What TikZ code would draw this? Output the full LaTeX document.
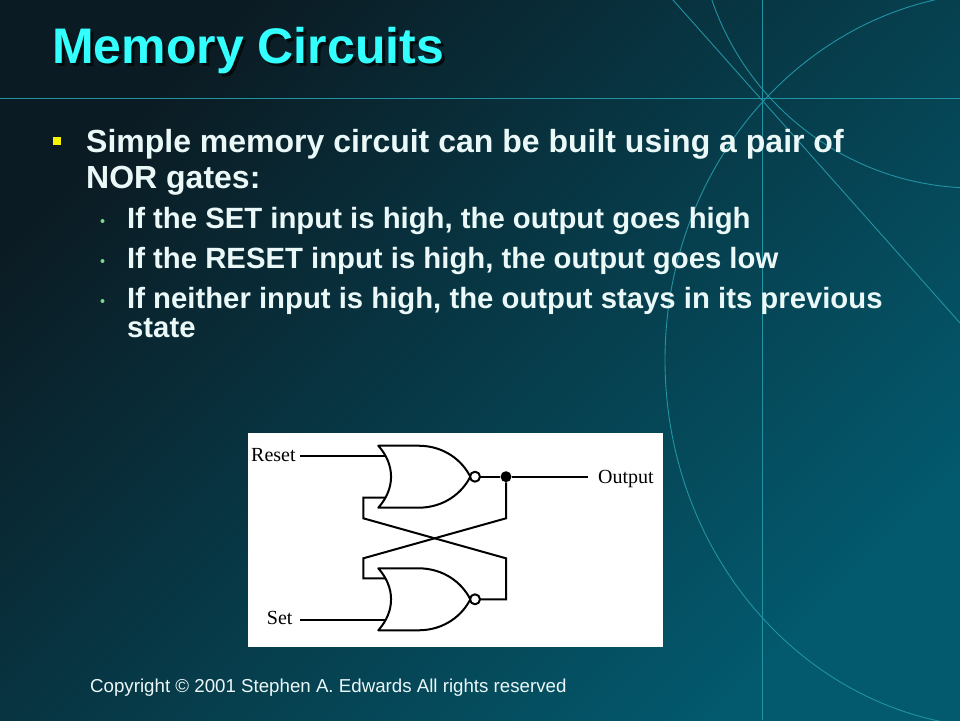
\documentclass[tikz,border=0pt]{standalone}
\usepackage{fontspec}
\setmainfont{Liberation Sans}
\newfontfamily\circfont{Liberation Serif}
\usetikzlibrary{positioning}

\definecolor{bgdark}{HTML}{0B1B23}
\definecolor{bglight}{HTML}{03596D}
\definecolor{decoline}{HTML}{2293A3}
\definecolor{titlecyan}{HTML}{33FFFF}
\definecolor{titleshade}{HTML}{050A0C}
\definecolor{bodytext}{HTML}{EAF8F8}
\definecolor{bulletyellow}{HTML}{F5F500}
\definecolor{subgreen}{HTML}{7CD88A}

\tikzset{
  wire/.style={line width=2pt},
  gateline/.style={line width=2pt, line join=round},
  deco/.style={decoline, line width=0.9pt},
  circlabel/.style={font=\circfont\fontsize{20}{22}\selectfont, inner sep=0pt, anchor=base west},
  bodyline/.style={text=bodytext, font=\bfseries\fontsize{32}{36}\selectfont, inner sep=0pt, anchor=base west},
  subline/.style={text=bodytext, font=\bfseries\fontsize{29.3}{33}\selectfont, inner sep=0pt, anchor=base west},
  pics/norgate/.style={code={
    \draw[gateline] (0,-31) -- (40,-31) .. controls (66,-31) and (84,-16) .. (92,0)
      .. controls (84,16) and (66,31) .. (40,31) -- (0,31)
      .. controls (17,12) and (17,-12) .. (0,-31) -- cycle;
    \draw[gateline] (96.7,0) circle (5pt);
    \coordinate (-in1) at (7,-21);
    \coordinate (-in2) at (7,21);
    \coordinate (-out) at (101.7,0);
  }}
}

\begin{document}
\begin{tikzpicture}[x=1pt,y=-1pt]

\useasboundingbox (0,0) rectangle (960,720);
\shade[top color=bgdark, bottom color=bglight, shading angle=45] (0,0) rectangle (960,720);%background

\begin{scope}
\clip (0,0) rectangle (960,720);
\draw[deco] (0,98) -- (960,98);
\draw[deco] (762,0) -- (762,720);
\draw[deco] (673,0) -- (960,323);
\draw[deco] (975,-90) circle (278pt);
\draw[deco] (1005,360) ellipse (340pt and 368pt);
\end{scope}

\node[anchor=base west, inner sep=0pt, text=titlecyan, font=\bfseries\fontsize{50}{60}\selectfont] (title) at (52,63)
  {\rlap{\hspace{3pt}\raisebox{-3pt}{\color{titleshade}Memory Circuits}}Memory Circuits};

\fill[bulletyellow] (53,137) rectangle (60.5,144.5);
\node[bodyline] (line1) at (86,152) {Simple memory circuit can be built using a pair of};
\node[bodyline] (line2) at (86,188) {NOR gates:};

\fill[subgreen] (102.5,221) circle (2pt);
\fill[subgreen] (102.5,261) circle (2pt);
\fill[subgreen] (102.5,301) circle (2pt);
\node[subline] (setrule) at (127,228) {If the SET input is high, the output goes high};
\node[subline] (resetrule) at (127,268) {If the RESET input is high, the output goes low};
\node[subline] (holdrule) at (127,308) {If neither input is high, the output stays in its previous};
\node[subline] (holdrule2) at (127,337) {state};

\node[anchor=base west, inner sep=0pt, text=bodytext, font=\fontsize{18.7}{22}\selectfont] (copyright) at (90,692) {Copyright \textcopyright{} 2001 Stephen A. Edwards  All rights reserved};

% circuit
\fill[white] (248,433) rectangle (663,647);
\pic (topnor) at (378.3,476.7) {norgate};
\pic (botnor) at (378.3,599.3) {norgate};

\node[circlabel] (resetlbl) at (251,461.7) {Reset};
\node[circlabel] (setlbl) at (266.7,624.3) {Set};
\node[circlabel] (outlbl) at (598,483) {Output};
\node[circle, fill=black, inner sep=0pt, minimum size=11pt] (junc) at (506,476.7) {};

\coordinate (instart) at (300,0);
\coordinate (outend) at (588,476.7);
\coordinate (lrail) at (363.3,0);
\coordinate (rrail) at (506,0);
\coordinate (xtop) at (0,518.3);
\coordinate (xbot) at (0,558.3);

\draw[wire] (instart |- topnor-in1) -- (topnor-in1);%Reset
\draw[wire] (instart |- botnor-in2) -- (botnor-in2);%Set
\draw[wire] (topnor-out) -- (junc) -- (outend);
\draw[wire] (topnor-in2) -- (lrail |- topnor-in2) -- (lrail |- xtop) -- (rrail |- xbot) -- (rrail |- botnor-out) -- (botnor-out);
\draw[wire] (junc) -- (rrail |- xtop) -- (lrail |- xbot) -- (lrail |- botnor-in1) -- (botnor-in1);

\end{tikzpicture}
\end{document}
